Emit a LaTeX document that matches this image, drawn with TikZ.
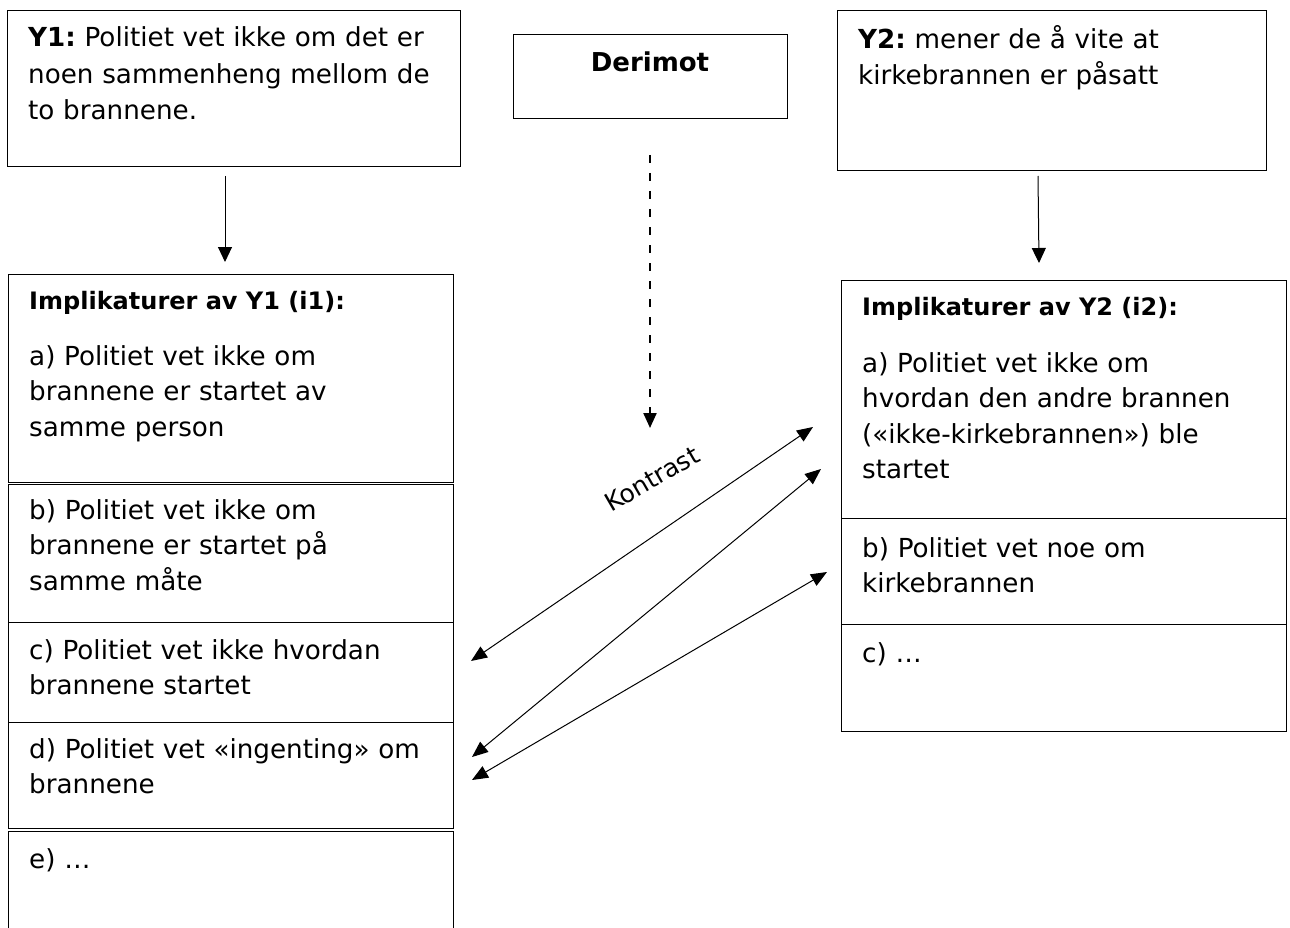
\documentclass[tikz,border=0pt]{standalone}
\usepackage{fontspec}
\setmainfont{DejaVu Sans}
\usetikzlibrary{arrows.meta}
\frenchspacing
\begin{document}
\begin{tikzpicture}[x=1pt,y=-1pt,
  box/.style={draw, line width=1.3pt, inner sep=0pt, anchor=north west},
  txt/.style={anchor=base west, inner sep=0pt, align=left, text width=440pt,
              font=\fontsize{26.2}{35.5}\selectfont},
  head/.style={anchor=base west, inner sep=0pt, font=\bfseries\fontsize{24}{30}\selectfont},
  link/.style={line width=1pt, -{Triangle[length=15pt,width=14pt]}},
  dlink/.style={line width=2.2pt, dash pattern=on 8pt off 10pt, -{Triangle[length=15pt,width=13pt]}},
  both/.style={line width=1pt, {Triangle[length=16pt,width=13pt]}-{Triangle[length=16pt,width=13pt]}},
]
\useasboundingbox (0,0) rectangle (1290,928);

% top row
\node[box, minimum width=453pt, minimum height=156pt] (y1) at (7,10) {};
\node[box, minimum width=274pt, minimum height=84pt] (der) at (513,34) {};
\node[box, minimum width=429pt, minimum height=160pt] (y2) at (837,10) {};

\node[txt, text width=430pt, font=\fontsize{26.2}{36.3}\selectfont] (y1t) at (28,47)
  {\textbf{Y1:} Politiet vet ikke om det er\\noen sammenheng mellom de\\to brannene.};
\node[anchor=base, inner sep=0pt, font=\bfseries\fontsize{26}{30}\selectfont] (dert) at (650,72) {Derimot};
\node[txt, text width=400pt] (y2t) at (858,49)
  {\textbf{Y2:} mener de å vite at\\kirkebrannen er påsatt};

% left column of implicatures
\node[box, minimum width=445pt, minimum height=208pt] (l1) at (8,274) {};
\node[box, minimum width=445pt, minimum height=138pt] (l2) at (8,484) {};
\node[box, minimum width=445pt, minimum height=100pt] (l3) at (8,622) {};
\node[box, minimum width=445pt, minimum height=106pt] (l4) at (8,722) {};
\node[box, minimum width=445pt, minimum height=120pt] (l5) at (8,831) {};

\node[head] (l1h) at (29,309) {Implikaturer av Y1 (i1):};
\node[txt] (l1t) at (29,365) {a) Politiet vet ikke om\\brannene er startet av\\samme person};
\node[txt] (l2t) at (29,519) {b) Politiet vet ikke om\\brannene er startet på\\samme måte};
\node[txt] (l3t) at (29,659) {c) Politiet vet ikke hvordan\\brannene startet};
\node[txt] (l4t) at (29,758) {d) Politiet vet «ingenting» om\\brannene};
\node[txt] (l5t) at (29,868) {e) …};

% right column of implicatures
\node[box, minimum width=445pt, minimum height=238pt] (r1) at (841,280) {};
\node[box, minimum width=445pt, minimum height=106pt] (r2) at (841,518) {};
\node[box, minimum width=445pt, minimum height=107pt] (r3) at (841,624) {};

\node[head] (r1h) at (862,315) {Implikaturer av Y2 (i2):};
\node[txt] (r1t) at (862,372) {a) Politiet vet ikke om\\hvordan den andre brannen\\(«ikke-kirkebrannen») ble\\startet};
\node[txt] (r2t) at (862,557) {b) Politiet vet noe om\\kirkebrannen};
\node[txt] (r3t) at (862,662) {c) …};

% vertical connectors
\coordinate (a1s) at (225,176);
\coordinate (a1e) at (225,262);
\coordinate (a2s) at (1038,176);
\coordinate (a2e) at (1039,263);
\coordinate (ds) at (650,155);
\coordinate (de) at (650,428);
\draw[link] (a1s) -- (a1e);
\draw[link] (a2s) -- (a2e);
\draw[dlink] (ds) -- (de);

% contrast arrows
\coordinate (k1l) at (471,661);
\coordinate (k1r) at (813,427);
\coordinate (k2l) at (472,757);
\coordinate (k2r) at (821,469);
\coordinate (k3l) at (472,780);
\coordinate (k3r) at (827,572);
\draw[both] (k1l) -- (k1r);
\draw[both] (k2l) -- (k2r);
\draw[both] (k3l) -- (k3r);

\node[rotate=30, inner sep=0pt, font=\fontsize{25}{28}\selectfont] (kon) at (652,479) {Kontrast};
\end{tikzpicture}
\end{document}
